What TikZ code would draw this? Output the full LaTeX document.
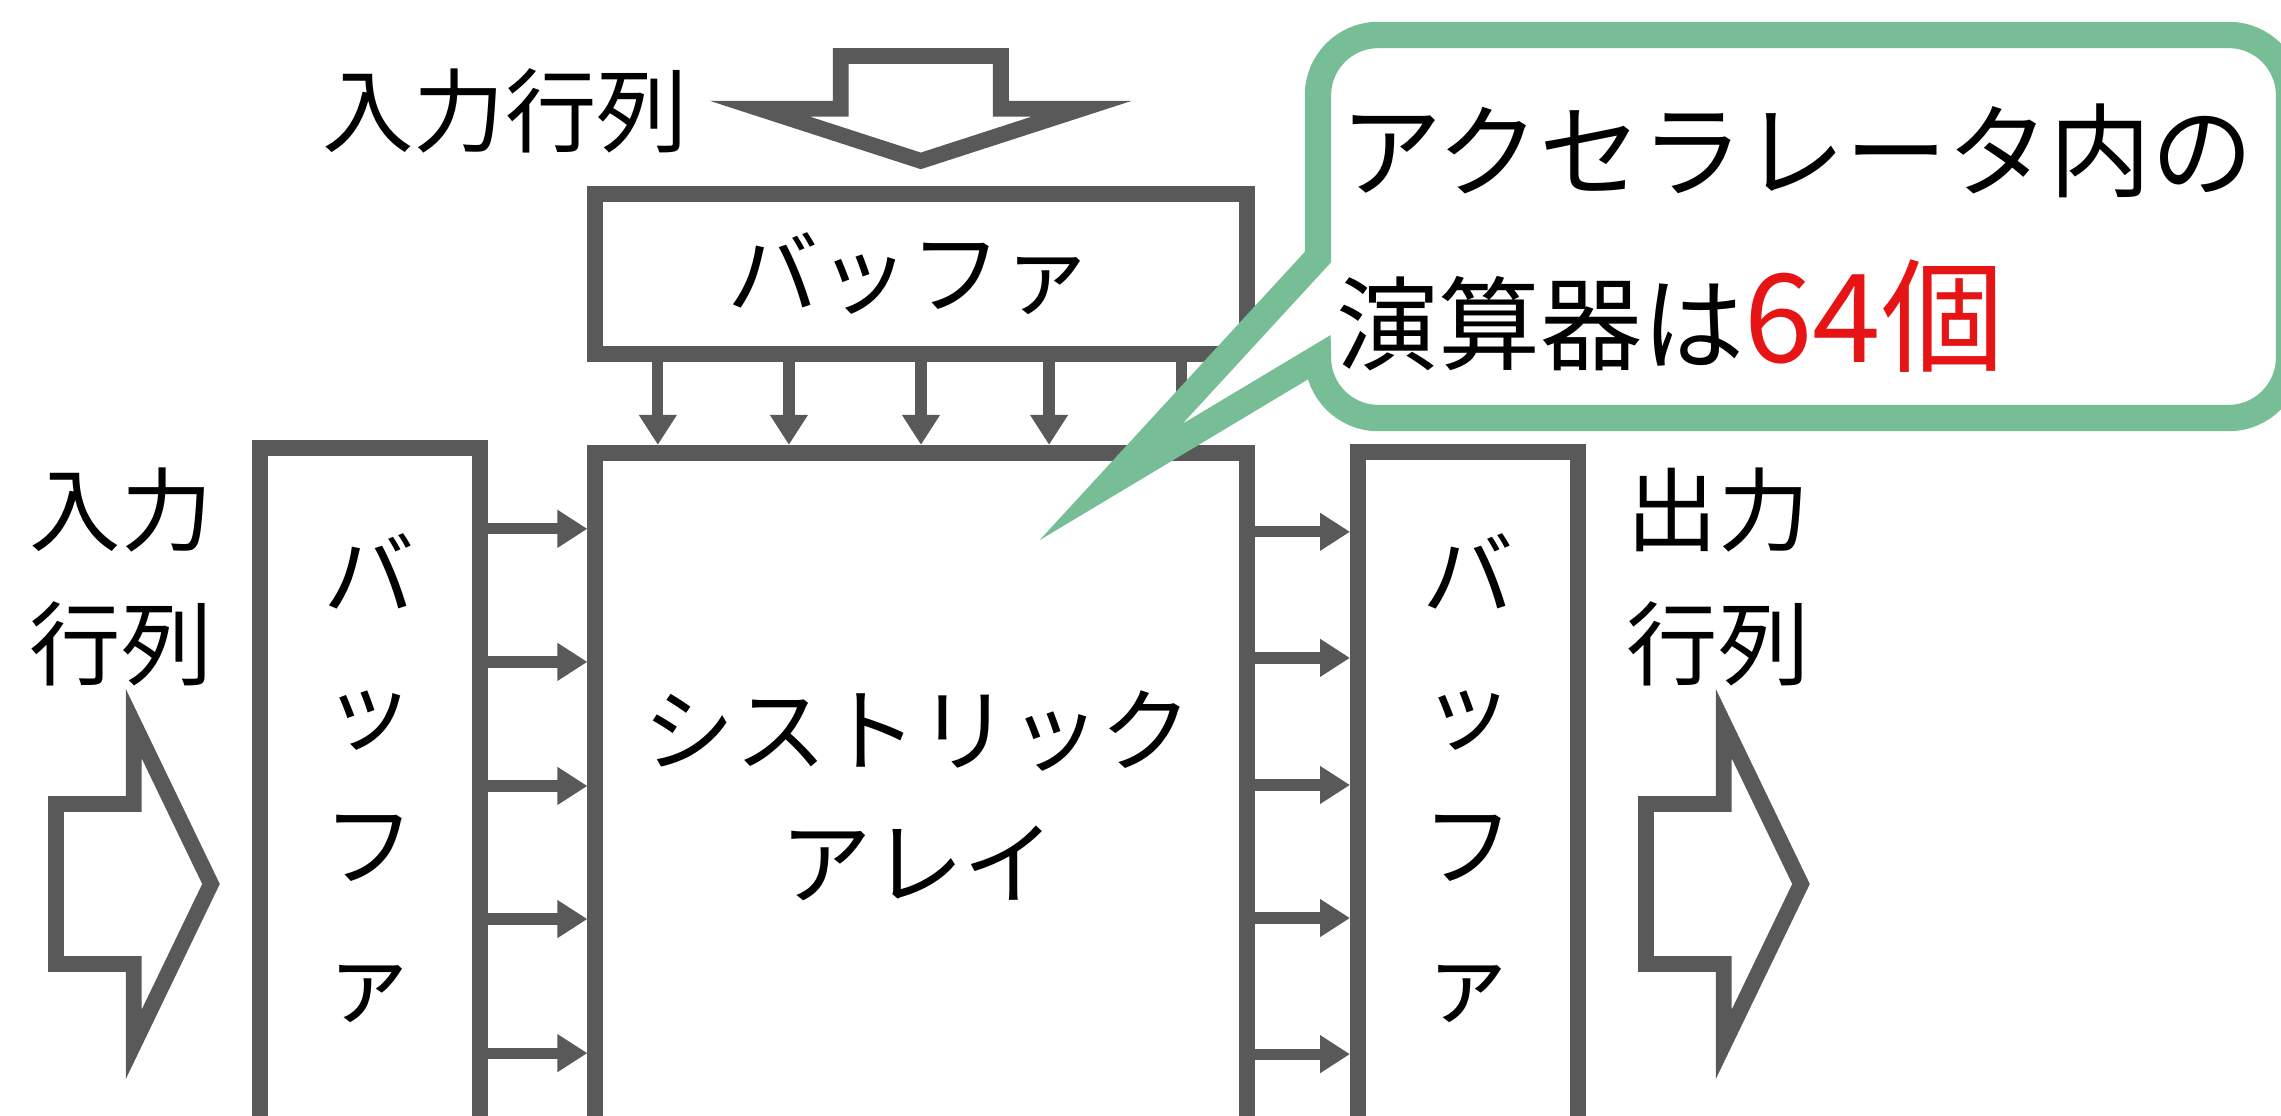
\documentclass[tikz,border=0pt]{standalone}
\usepackage{fontspec}
\setmainfont{Noto Sans CJK JP}
\usetikzlibrary{arrows.meta}

\definecolor{boxgray}{RGB}{89,89,89}
\definecolor{notegreen}{RGB}{119,190,150}
\definecolor{countred}{RGB}{230,20,20}

\tikzset{
  box/.style={draw=boxgray, line width=4.5pt, fill=white, inner sep=0pt},
  link/.style={->, draw=boxgray, line width=3.2pt},
  bigarrow/.style={draw=boxgray, line width=4.5pt, fill=white},
  txt/.style={font=\fontsize{26}{38}\selectfont, align=center, inner sep=0pt},
}

\begin{document}
\begin{tikzpicture}[x=0.01cm, y=-0.01cm, >={Triangle[length=0.3cm,width=0.36cm]}]
\useasboundingbox (0,0) rectangle (2281,1116);
\clip (0,0) rectangle (2281,1116);

\node[box, minimum width=6.51cm, minimum height=1.6cm] at (921,274) (topbuf) {};
\node[box, minimum width=2.2cm, minimum height=7.52cm] at (370,824) (lbuf) {};
\node[box, minimum width=6.51cm, minimum height=7.42cm] at (921,824) (array) {};
\node[box, minimum width=2.2cm, minimum height=7.44cm] at (1468,824) (rbuf) {};

\node[txt] at (910,274) (topbuftext) {バッファ};
\node[txt, font=\fontsize{26}{38.6}\selectfont] at (369,778) (lbuftext) {バ\\ッ\\フ\\ァ};
\node[txt, font=\fontsize{26}{37.7}\selectfont] at (918,796) (arraytext) {シストリック\\アレイ};
\node[txt, font=\fontsize{26}{38.6}\selectfont] at (1468,778) (rbuftext) {バ\\ッ\\フ\\ァ};

\node[txt] at (505,111) (topin) {入力行列};
\node[txt] at (121,577) (leftin) {入力\\行列};
\node[txt] at (1718,577) (rightout) {出力\\行列};

% big arrows
\draw[bigarrow] (840.7,56) -- (1000.9,56) -- (1000.9,108.8) -- (1081.6,108.8) -- (920.8,160.9) -- (760,108.8) -- (840.7,108.8) -- cycle;
\draw[bigarrow] (56,804) -- (133.7,804) -- (133.7,723.6) -- (211,884) -- (133.7,1044.4) -- (133.7,964) -- (56,964) -- cycle;
\draw[bigarrow] (1646,804) -- (1723.7,804) -- (1723.7,723.6) -- (1801,884) -- (1723.7,1044.4) -- (1723.7,964) -- (1646,964) -- cycle;

\path[link] ([xshift=-2.63cm]topbuf.south) to ([xshift=-2.63cm]array.north);
\path[link] ([xshift=-1.32cm]topbuf.south) to ([xshift=-1.32cm]array.north);
\path[link] (topbuf.south) to (array.north);
\path[link] ([xshift=1.28cm]topbuf.south) to ([xshift=1.28cm]array.north);
\path[link] ([xshift=2.6cm]topbuf.south) to ([xshift=2.6cm]array.north);

\path[link] ([yshift=2.95cm]lbuf.east) to ([yshift=2.95cm]array.west);
\path[link] ([yshift=1.62cm]lbuf.east) to ([yshift=1.62cm]array.west);
\path[link] ([yshift=0.38cm]lbuf.east) to ([yshift=0.38cm]array.west);
\path[link] ([yshift=-0.95cm]lbuf.east) to ([yshift=-0.95cm]array.west);
\path[link] ([yshift=-2.29cm]lbuf.east) to ([yshift=-2.29cm]array.west);

\path[link] ([yshift=2.92cm]array.east) to ([yshift=2.92cm]rbuf.west);
\path[link] ([yshift=1.66cm]array.east) to ([yshift=1.66cm]rbuf.west);
\path[link] ([yshift=0.39cm]array.east) to ([yshift=0.39cm]rbuf.west);
\path[link] ([yshift=-0.94cm]array.east) to ([yshift=-0.94cm]rbuf.west);
\path[link] ([yshift=-2.3cm]array.east) to ([yshift=-2.3cm]rbuf.west);

% callout
\draw[draw=notegreen, line width=7.5pt, fill=white] (1318,257) -- (1318,95) .. controls (1318,62) and (1345,35) .. (1378,35) -- (2229,35) .. controls (2262,35) and (2289,62) .. (2289,95) -- (2289,358) .. controls (2289,391) and (2262,418) .. (2229,418) -- (1378,418) .. controls (1345,418) and (1318,391) .. (1318,358) -- (1111,482) -- cycle;

\node[anchor=base west, inner sep=0pt, font=\fontsize{29}{35}\selectfont] at (1340,190) (note1) {アクセラレータ内の};
\node[anchor=base west, inner sep=0pt, font=\fontsize{29}{35}\selectfont] at (1336,363) (note2) {演算器は{\color{countred}\fontsize{35}{40}\selectfont 64個}};

\end{tikzpicture}
\end{document}
